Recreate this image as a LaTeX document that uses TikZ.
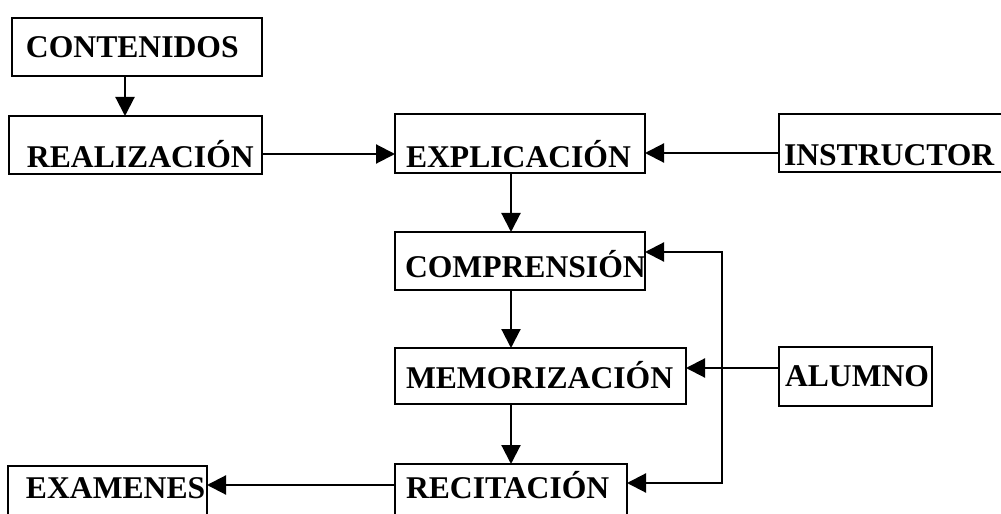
\documentclass[tikz,border=0pt]{standalone}
\usepackage{fontspec}
\setmainfont{Liberation Serif}
\usetikzlibrary{arrows.meta}

\newcommand\cajatexto{\bfseries\fontsize{18}{20}\selectfont}
\newcommand\puntas{Triangle[length=0.38cm,width=0.38cm]}

\tikzset{
  caja/.style 2 args={draw, line width=1.2pt, rectangle, anchor=north west,
    outer sep=0pt, inner ysep=0pt, align=left, text depth=0pt,
    font=\cajatexto, text width=#1, text height=#2},
  flecha/.style={line width=1.2pt, -{\puntas}},
  dobleflecha/.style={line width=1.2pt, {\puntas}-{\puntas}}
}

\begin{document}
\begin{tikzpicture}
    \useasboundingbox (0,0) rectangle (20.02,-10.28);
    \clip (0,0) rectangle (20.02,-10.28);
    % cajas
    \node (cont) at (0.24,-0.36)[caja={4.44cm}{0.42cm}, inner xsep=0.28cm, minimum height=1.16cm]{CONTENIDOS};
    \node (real) at (0.18,-2.32)[caja={4.34cm}{0.9cm}, inner xsep=0.36cm, minimum height=1.16cm]{REALIZACIÓN};
    \node (expl) at (7.9,-2.28)[caja={4.56cm}{0.96cm}, inner xsep=0.22cm, minimum height=1.18cm]{EXPLICACIÓN};
    \node (instr) at (15.58,-2.28)[caja={4.4cm}{0.9cm}, inner xsep=0.1cm, minimum height=1.16cm]{INSTRUCTOR};
    \node (comp) at (7.9,-4.64)[caja={4.6cm}{0.66cm}, inner xsep=0.2cm, minimum height=1.16cm]{COMPRENSIÓN};
    \node (mem) at (7.9,-6.96)[caja={5.38cm}{0.5cm}, inner xsep=0.22cm, minimum height=1.12cm]{MEMORIZACIÓN};
    \node (alum) at (15.58,-6.94)[caja={2.82cm}{0.42cm}, inner xsep=0.12cm, minimum height=1.18cm]{ALUMNO};
    \node (rec) at (7.9,-9.28)[caja={4.2cm}{0.32cm}, inner xsep=0.22cm, minimum height=1.04cm]{RECITACIÓN};
    \node (exam) at (0.16,-9.32)[caja={3.26cm}{0.26cm}, inner xsep=0.36cm, minimum height=1.04cm]{EXAMENES};
    % flechas
    \draw[flecha] ([xshift=-0.24cm]cont.south) -- ([xshift=-0.24cm]cont.south |- real.north);
    \draw[flecha] ([yshift=-0.18cm]real.east) -- ([yshift=-0.18cm]real.east -| expl.west);
    \draw[flecha] ([yshift=-0.2cm]instr.west) -- ([yshift=-0.2cm]instr.west -| expl.east);
    \draw[flecha] ([xshift=2.32cm]expl.south west) -- ([xshift=2.32cm]comp.north west);
    \draw[flecha] ([xshift=2.32cm]comp.south west) -- ([xshift=2.32cm]mem.north west);
    \draw[flecha] ([xshift=2.32cm]mem.south west) -- ([xshift=2.32cm]rec.north west);
    \draw[flecha] ([yshift=-0.42cm]alum.north west) -- ([yshift=-0.42cm]alum.north west -| mem.east);
    \coordinate (bus) at ([xshift=0.72cm]mem.east);
    \draw[dobleflecha] ([yshift=-0.4cm]comp.north east) -| (bus) |- ([yshift=-0.38cm]rec.north east);
    \draw[flecha] ([yshift=-0.42cm]rec.north west) -- ([yshift=-0.42cm]rec.north west -| exam.east);
  \end{tikzpicture}
\end{document}
